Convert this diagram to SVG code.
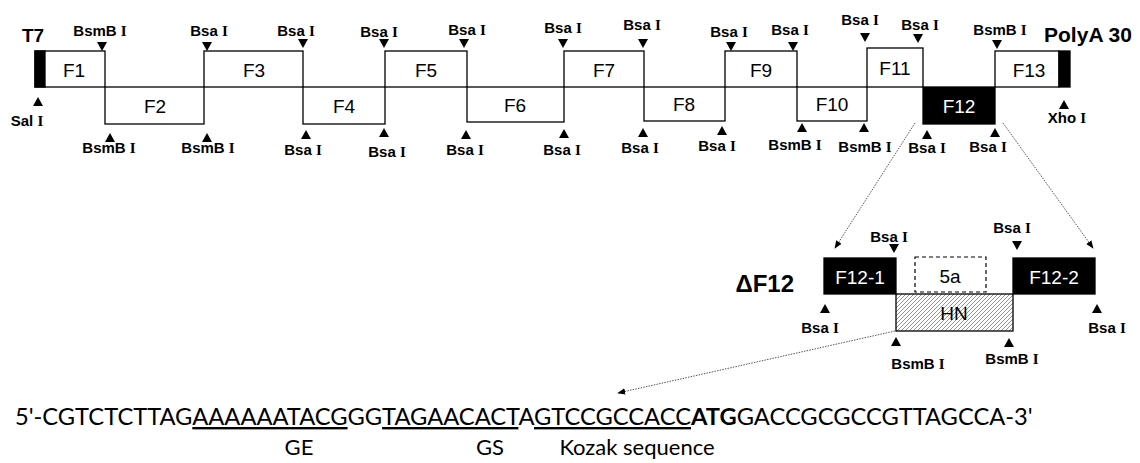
<svg xmlns="http://www.w3.org/2000/svg" xmlns:xlink="http://www.w3.org/1999/xlink" width="1140" height="463" viewBox="0 0 1140 463">
<style>
.box{fill:#fff;stroke:#000;stroke-width:1.3}
.blk{fill:#000;stroke:#000;stroke-width:1.3}
.fl{font-family:"Liberation Sans",Arial,sans-serif;font-size:19px;fill:#000;text-anchor:middle}
.wh{fill:#fff}
.enz{font-family:"Liberation Sans",Arial,sans-serif;font-size:15px;font-weight:bold;fill:#000;text-anchor:middle}
.rom{font-family:"Liberation Serif","Times New Roman",serif;font-weight:bold}
.big{font-family:"Liberation Sans",Arial,sans-serif;font-weight:bold;fill:#000}
.conn{fill:none;stroke:#555;stroke-width:1;stroke-dasharray:1.5 1.2}
.seq{font-family:Lato,"Noto Sans",sans-serif;font-size:23.7px;fill:#000}
.cap{font-family:Lato,"Noto Sans",sans-serif;font-size:22px;fill:#000;text-anchor:middle}
</style>
<defs>
<path id="td" d="M-5,0 L5,0 L0,9 Z" fill="#000"/>
<path id="tu" d="M-5,9 L5,9 L0,0 Z" fill="#000"/>
<marker id="ah" viewBox="0 0 10 10" refX="9" refY="5" markerWidth="8" markerHeight="8" markerUnits="userSpaceOnUse" orient="auto">
<path d="M0,1 L10,5 L0,9 Z" fill="#000"/>
</marker>
<pattern id="hatch" patternUnits="userSpaceOnUse" width="4" height="4">
<rect width="4" height="4" fill="#fff"/>
<path d="M-1,1 L1,-1 M0,4 L4,0 M3,5 L5,3" stroke="#777" stroke-width="0.8"/>
</pattern>
</defs>

<g id="connectors">
<line class="conn" x1="915" y1="123" x2="835" y2="248" marker-end="url(#ah)"/>
<line class="conn" x1="1003" y1="123" x2="1093" y2="248" marker-end="url(#ah)"/>
<line class="conn" x1="895" y1="331" x2="618" y2="393" marker-end="url(#ah)"/>
</g>

<g id="T7"><text class="big" x="33" y="42" font-size="19" text-anchor="middle">T7</text></g>
<g id="PolyA"><text class="big" x="1088" y="42" font-size="21" text-anchor="middle">PolyA 30</text></g>

<g id="F1"><rect class="box" x="35" y="51" width="70" height="36"/><rect class="blk" x="35" y="51" width="10" height="36"/><text class="fl" x="74" y="77">F1</text></g>
<g id="F2"><rect class="box" x="105" y="87" width="99" height="37"/><text class="fl" x="155" y="113">F2</text></g>
<g id="F3"><rect class="box" x="204" y="51" width="99" height="36"/><text class="fl" x="254" y="77">F3</text></g>
<g id="F4"><rect class="box" x="303" y="87" width="82" height="37"/><text class="fl" x="344" y="113">F4</text></g>
<g id="F5"><rect class="box" x="385" y="51" width="82" height="36"/><text class="fl" x="426" y="77">F5</text></g>
<g id="F6"><rect class="box" x="467" y="87" width="97" height="35"/><text class="fl" x="515" y="112">F6</text></g>
<g id="F7"><rect class="box" x="564" y="51" width="80" height="36"/><text class="fl" x="604" y="77">F7</text></g>
<g id="F8"><rect class="box" x="644" y="87" width="81" height="34"/><text class="fl" x="684" y="111">F8</text></g>
<g id="F9"><rect class="box" x="725" y="51" width="72" height="36"/><text class="fl" x="761" y="77">F9</text></g>
<g id="F10"><rect class="box" x="797" y="87" width="70" height="34"/><text class="fl" x="832" y="111">F10</text></g>
<g id="F11"><rect class="box" x="867" y="48" width="56" height="39"/><text class="fl" x="895" y="75">F11</text></g>
<g id="F12"><rect class="blk" x="923" y="87" width="72" height="37"/><text class="fl wh" x="959" y="113">F12</text></g>
<g id="F13"><rect class="box" x="995" y="51" width="64" height="36"/><rect class="blk" x="1059" y="51" width="11" height="36"/><text class="fl" x="1029" y="77">F13</text></g>

<g id="sites-top">
<g id="s1"><use href="#td" x="102" y="42"/><text class="enz" x="100" y="36">BsmB <tspan class="rom">I</tspan></text></g>
<g id="s2"><use href="#td" x="207" y="42"/><text class="enz" x="209" y="36">Bsa <tspan class="rom">I</tspan></text></g>
<g id="s3"><use href="#td" x="303" y="39"/><text class="enz" x="296" y="36">Bsa <tspan class="rom">I</tspan></text></g>
<g id="s4"><use href="#td" x="384" y="39"/><text class="enz" x="379" y="37">Bsa <tspan class="rom">I</tspan></text></g>
<g id="s5"><use href="#td" x="464" y="39"/><text class="enz" x="467" y="35">Bsa <tspan class="rom">I</tspan></text></g>
<g id="s6"><use href="#td" x="563" y="39"/><text class="enz" x="563" y="33">Bsa <tspan class="rom">I</tspan></text></g>
<g id="s7"><use href="#td" x="643" y="39"/><text class="enz" x="642" y="30">Bsa <tspan class="rom">I</tspan></text></g>
<g id="s8"><use href="#td" x="731" y="42"/><text class="enz" x="729" y="37">Bsa <tspan class="rom">I</tspan></text></g>
<g id="s9"><use href="#td" x="793" y="42"/><text class="enz" x="790" y="35">Bsa <tspan class="rom">I</tspan></text></g>
<g id="s10"><use href="#td" x="865" y="33"/><text class="enz" x="860" y="25">Bsa <tspan class="rom">I</tspan></text></g>
<g id="s11"><use href="#td" x="918" y="34"/><text class="enz" x="920" y="30">Bsa <tspan class="rom">I</tspan></text></g>
<g id="s12"><use href="#td" x="997" y="40"/><text class="enz" x="1000" y="35">BsmB <tspan class="rom">I</tspan></text></g>
</g>

<g id="sites-bottom">
<g id="b0"><use href="#tu" x="38" y="97"/><text class="enz" x="27" y="126">Sal <tspan class="rom">I</tspan></text></g>
<g id="b1"><use href="#tu" x="110" y="133"/><text class="enz" x="109" y="153">BsmB <tspan class="rom">I</tspan></text></g>
<g id="b2"><use href="#tu" x="207" y="133"/><text class="enz" x="208" y="153">BsmB <tspan class="rom">I</tspan></text></g>
<g id="b3"><use href="#tu" x="306" y="130"/><text class="enz" x="303" y="155">Bsa <tspan class="rom">I</tspan></text></g>
<g id="b4"><use href="#tu" x="384" y="128"/><text class="enz" x="387" y="157">Bsa <tspan class="rom">I</tspan></text></g>
<g id="b5"><use href="#tu" x="466" y="130"/><text class="enz" x="465" y="155">Bsa <tspan class="rom">I</tspan></text></g>
<g id="b6"><use href="#tu" x="564" y="129"/><text class="enz" x="562" y="155">Bsa <tspan class="rom">I</tspan></text></g>
<g id="b7"><use href="#tu" x="643" y="128"/><text class="enz" x="640" y="153">Bsa <tspan class="rom">I</tspan></text></g>
<g id="b8"><use href="#tu" x="722" y="126"/><text class="enz" x="717" y="151">Bsa <tspan class="rom">I</tspan></text></g>
<g id="b9"><use href="#tu" x="802" y="123"/><text class="enz" x="795" y="150">BsmB <tspan class="rom">I</tspan></text></g>
<g id="b10"><use href="#tu" x="864" y="123"/><text class="enz" x="865" y="152">BsmB <tspan class="rom">I</tspan></text></g>
<g id="b11"><use href="#tu" x="927" y="130"/><text class="enz" x="927" y="153">Bsa <tspan class="rom">I</tspan></text></g>
<g id="b12"><use href="#tu" x="995" y="128"/><text class="enz" x="988" y="152">Bsa <tspan class="rom">I</tspan></text></g>
<g id="b13"><use href="#tu" x="1064" y="100"/><text class="enz" x="1067" y="123">Xho <tspan class="rom">I</tspan></text></g>
</g>

<g id="dF12label"><text class="big" x="794" y="292" font-size="24" text-anchor="end">ΔF12</text></g>
<g id="F12-1"><rect class="blk" x="824" y="258" width="72" height="36"/><text class="fl wh" x="860" y="284" font-size="21">F12-1</text></g>
<g id="5a"><rect x="915" y="257" width="71" height="35" fill="#fff" stroke="#000" stroke-width="1.2" stroke-dasharray="4 3"/><text class="fl" x="950" y="283" font-size="21">5a</text></g>
<g id="F12-2"><rect class="blk" x="1013" y="258" width="82" height="36"/><text class="fl wh" x="1054" y="284" font-size="21">F12-2</text></g>
<g id="HN"><rect x="896" y="294" width="117" height="37" fill="url(#hatch)" stroke="#000" stroke-width="1.3"/><text class="fl" x="954" y="320" font-size="20" fill="#222">HN</text></g>

<g id="sites-dF12">
<g id="d1"><use href="#td" x="894" y="244"/><text class="enz" x="889" y="242">Bsa <tspan class="rom">I</tspan></text></g>
<g id="d2"><use href="#td" x="1017" y="241"/><text class="enz" x="1012" y="233">Bsa <tspan class="rom">I</tspan></text></g>
<g id="d3"><use href="#tu" x="825" y="304"/><text class="enz" x="820" y="333">Bsa <tspan class="rom">I</tspan></text></g>
<g id="d4"><use href="#tu" x="1097" y="304"/><text class="enz" x="1107" y="333">Bsa <tspan class="rom">I</tspan></text></g>
<g id="d5"><use href="#tu" x="896" y="337"/><text class="enz" x="918" y="369">BsmB <tspan class="rom">I</tspan></text></g>
<g id="d6"><use href="#tu" x="1009" y="338"/><text class="enz" x="1012" y="364">BsmB <tspan class="rom">I</tspan></text></g>
</g>

<g id="sequence">
<text class="seq" x="15" y="425">5'-CGTCTCTTAG<tspan text-decoration="underline">AAAAAATACG</tspan>GG<tspan text-decoration="underline">TAGAACACT</tspan>A<tspan text-decoration="underline">GTCCGCCACC</tspan><tspan font-weight="bold">ATG</tspan>GACCGCGCCGTTAGCCA-3'</text>
<text class="cap" x="299" y="455">GE</text>
<text class="cap" x="490" y="455">GS</text>
<text class="cap" x="637" y="455">Kozak sequence</text>
</g>
</svg>
